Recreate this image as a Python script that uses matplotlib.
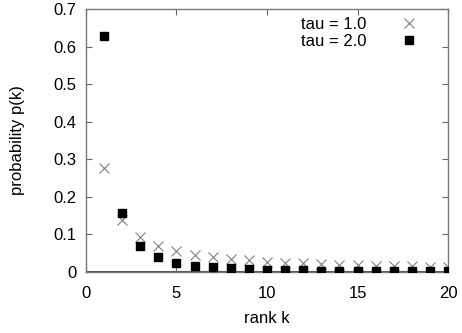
import numpy as np
import matplotlib.pyplot as plt

plt.rcParams['font.family'] = ['Liberation Sans', 'DejaVu Sans']
plt.rcParams.update({'font.size': 12})

rank = list(range(1, 21))
p_tau1 = [0.278, 0.139, 0.093, 0.0695, 0.0556, 0.0463, 0.0397, 0.0348, 0.0309, 0.0278,
          0.0253, 0.0232, 0.0214, 0.0199, 0.0185, 0.0174, 0.0164, 0.0154, 0.0146, 0.0139]
p_tau2 = [0.627, 0.157, 0.0696, 0.0392, 0.0251, 0.0174, 0.0128, 0.0098, 0.0077, 0.0063,
          0.0052, 0.0044, 0.0037, 0.0032, 0.0028, 0.0024, 0.0022, 0.0019, 0.0017, 0.0016]
labels = ['tau = 1.0', 'tau = 2.0']
xticks = [0, 5, 10, 15, 20]
yticks = [0, 0.1, 0.2, 0.3, 0.4, 0.5, 0.6, 0.7]

fig = plt.figure(figsize=(4.62, 3.33), dpi=100)
ax = fig.add_axes([0.186, 0.183, 0.784, 0.790])

ax.axhline(0, color='#555555', lw=1.5, zorder=1)
ax.plot(rank, p_tau1, ls='none', marker='x', ms=6.5, mew=0.8, color='#808080', label=labels[0], zorder=3)
ax.plot(rank, p_tau2, ls='none', marker='s', ms=5.5, color='black', label=labels[1], zorder=3)

ax.set_xlim(0, 20)
ax.set_ylim(0, 0.7)
ax.set_xticks(xticks)
ax.set_yticks(yticks)
ax.set_yticklabels(['0', '0.1', '0.2', '0.3', '0.4', '0.5', '0.6', '0.7'])
ax.tick_params(direction='in', length=4, width=0.8, color='#666666', top=True, right=True, pad=7)
ax.tick_params(axis='x', pad=10)
for s in ax.spines.values():
    s.set_color('#777777')
    s.set_linewidth(1.0)

ax.set_xlabel('rank k', labelpad=7)
ax.set_ylabel('probability p(k)', labelpad=20)

leg = ax.legend(loc='upper right', frameon=False, markerfirst=False, handletextpad=1.8,
                borderaxespad=0.1, labelspacing=0.1, handlelength=1.5,
                bbox_to_anchor=(0.95, 1.0))

plt.savefig('out.png', dpi=100)
